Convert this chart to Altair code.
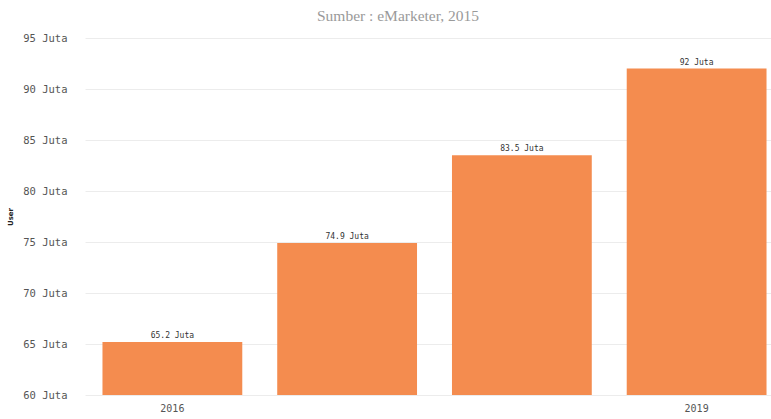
import altair as alt
import pandas as pd

years = ["2016", "2017", "2018", "2019"]
values = [65.2, 74.9, 83.5, 92]
labels = ["65.2 Juta", "74.9 Juta", "83.5 Juta", "92 Juta"]

df = pd.DataFrame({"year": years, "value": values, "label": labels})

base = alt.Chart(df).encode(
    x=alt.X("year:N", sort=years, title=None,
            scale=alt.Scale(paddingInner=0.2, paddingOuter=0.1, range=[0, 699]),
            axis=alt.Axis(labelAngle=0, domain=False, ticks=False, labelPadding=8,
                          labelFont="DejaVu Sans Mono", labelFontSize=10, labelColor="#555",
                          labelExpr="datum.value == '2016' || datum.value == '2019' ? datum.value : ''")),
    y=alt.Y("value:Q", title="User",
            scale=alt.Scale(domain=[60, 95], nice=False, zero=False),
            axis=alt.Axis(values=[60, 65, 70, 75, 80, 85, 90, 95], domain=False, ticks=False,
                          labelExpr="datum.value + ' Juta'", labelPadding=18,
                          labelFont="DejaVu Sans Mono", labelFontSize=10.5, labelColor="#555",
                          gridColor="#ececec", titleFontSize=7, titleFont="DejaVu Sans",
                          titleColor="#222", titlePadding=9))
)

bars = base.mark_bar(color="#F48C4F", clip=True)
text = base.mark_text(dy=-6, fontSize=8, font="DejaVu Sans Mono", color="#333", clip=True).encode(text="label:N")

chart = (bars + text).properties(
    width=771, height=415,
    autosize=alt.AutoSizeParams(type="fit", contains="padding"),
    title=alt.TitleParams("Sumber : eMarketer, 2015", font="Liberation Serif", fontSize=15.5,
                          fontWeight="normal", color="#9a9a9a", anchor="middle", dx=-30, offset=9),
    padding={"left": 6, "top": 8, "right": 0, "bottom": 2}
).configure_view(stroke=None).configure_axis(labelOverlap=False)

chart.save("out.html", embed_options={"renderer": "svg", "actions": False})
